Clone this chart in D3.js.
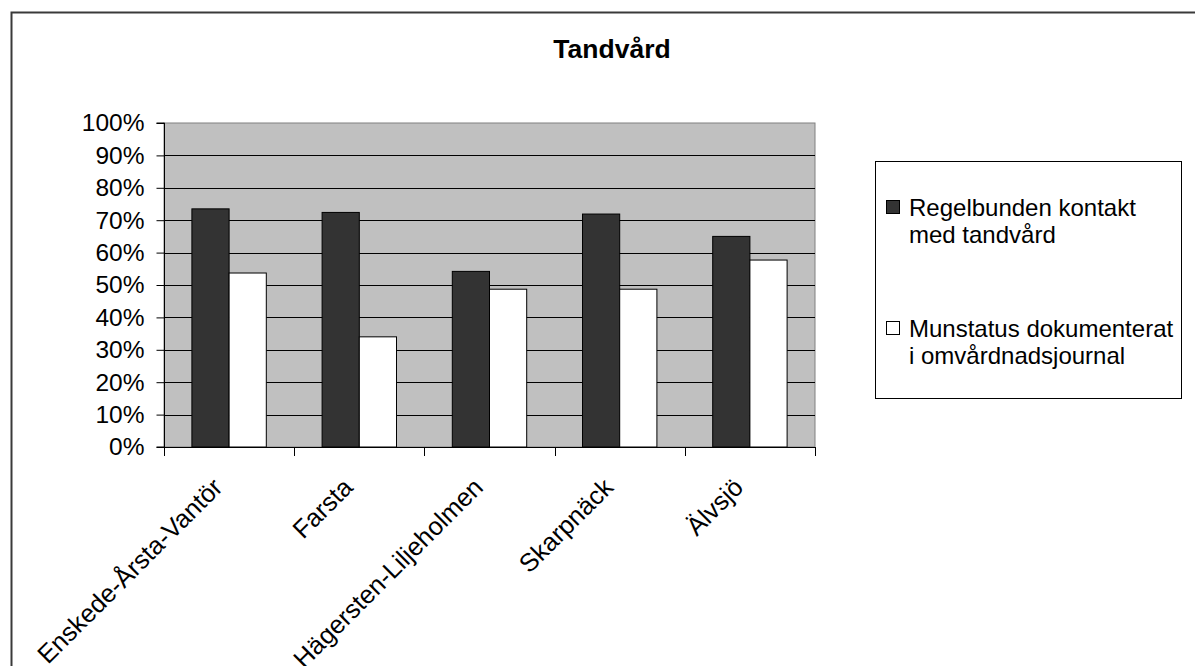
<!DOCTYPE html>
<html>
<head>
<meta charset="utf-8">
<script src="https://cdn.jsdelivr.net/npm/d3@7"></script>
<style>
  html, body { margin: 0; padding: 0; background: #ffffff; }
  svg { display: block; font-family: "Liberation Sans", Arial, sans-serif; }
</style>
</head>
<body>
<svg id="chart" width="1195" height="666"></svg>
<script>
// Districts shown on the category axis
const categories = ["Enskede-Årsta-Vantör", "Farsta", "Hägersten-Liljeholmen", "Skarpnäck", "Älvsjö"];

// Series names (split over two lines in the legend)
const seriesNames = ["Regelbunden kontakt med tandvård", "Munstatus dokumenterat i omvårdnadsjournal"];
const seriesLegendLines = [
  ["Regelbunden kontakt", "med tandvård"],
  ["Munstatus dokumenterat", "i omvårdnadsjournal"]
];

// Share per district, one array per series
const regelbundenKontakt = [0.735, 0.724, 0.542, 0.719, 0.650];
const munstatusDokumenterat = [0.537, 0.340, 0.487, 0.487, 0.577];

// Value axis ticks
const yTicks = [0, 0.1, 0.2, 0.3, 0.4, 0.5, 0.6, 0.7, 0.8, 0.9, 1.0];

const seriesValues = [regelbundenKontakt, munstatusDokumenterat];
const seriesFill = ["#333333", "#ffffff"];

const svg = d3.select("#chart");

// Outer chart frame
svg.append("path")
  .attr("d", "M11.5,666 L11.5,12.5 L1195,12.5")
  .attr("fill", "none")
  .attr("stroke", "#3a3a3a")
  .attr("stroke-width", 2);

// Title
svg.append("text")
  .attr("x", 612)
  .attr("y", 58)
  .attr("text-anchor", "middle")
  .attr("font-size", 26.5)
  .attr("font-weight", "bold")
  .attr("fill", "#000")
  .text("Tandvård");

const plot = { left: 164, right: 815, top: 123, bottom: 447 };

const y = d3.scaleLinear().domain([0, 1]).range([plot.bottom, plot.top]);
const xCat = d3.scaleBand().domain(categories).range([plot.left, plot.right]).padding(0);
const xSeries = d3.scaleBand().domain(d3.range(seriesNames.length))
  .range([0, xCat.bandwidth()]).paddingInner(0).paddingOuter(0.75);

// Plot area background
svg.append("rect")
  .attr("x", plot.left)
  .attr("y", plot.top)
  .attr("width", plot.right - plot.left)
  .attr("height", plot.bottom - plot.top)
  .attr("fill", "#c0c0c0")
  .attr("stroke", "#808080")
  .attr("stroke-width", 1);

// Horizontal gridlines
svg.append("g")
  .selectAll("line")
  .data(yTicks.filter(t => t > 0 && t < 1))
  .join("line")
  .attr("x1", plot.left)
  .attr("x2", plot.right)
  .attr("y1", d => Math.round(y(d)) + 0.5)
  .attr("y2", d => Math.round(y(d)) + 0.5)
  .attr("stroke", "#000")
  .attr("stroke-width", 1);

// Bars
const rows = categories.map((c, i) => ({ category: c, values: seriesValues.map(s => s[i]) }));
svg.append("g")
  .selectAll("g")
  .data(rows)
  .join("g")
  .attr("transform", d => `translate(${xCat(d.category)},0)`)
  .selectAll("rect")
  .data(d => d.values.map((v, k) => ({ v, k })))
  .join("rect")
  .attr("x", d => xSeries(d.k))
  .attr("y", d => y(d.v))
  .attr("width", xSeries.bandwidth())
  .attr("height", d => y(0) - y(d.v))
  .attr("fill", d => seriesFill[d.k])
  .attr("stroke", "#000")
  .attr("stroke-width", 1);

// Value axis
const yAxis = d3.axisLeft(y)
  .tickValues(yTicks)
  .tickFormat(d3.format(".0%"))
  .tickSize(8)
  .tickPadding(12);
const yAxisG = svg.append("g")
  .attr("transform", `translate(${plot.left + 0.5},0)`)
  .call(yAxis);
yAxisG.select(".domain").attr("stroke", "#000").attr("d", `M-8,${plot.top}H0V${plot.bottom}H-8`);
yAxisG.selectAll(".tick line").attr("stroke", "#000");
yAxisG.selectAll("text")
  .attr("font-size", 24.5)
  .attr("font-family", "Liberation Sans, Arial, sans-serif")
  .attr("fill", "#000");

// Category axis line and tick marks at category boundaries
const boundaries = categories.map(c => xCat(c)).concat([plot.right]);
svg.append("line")
  .attr("x1", plot.left)
  .attr("x2", plot.right)
  .attr("y1", plot.bottom + 0.5)
  .attr("y2", plot.bottom + 0.5)
  .attr("stroke", "#000");
svg.append("g")
  .selectAll("line")
  .data(boundaries)
  .join("line")
  .attr("x1", d => Math.round(d) + 0.5)
  .attr("x2", d => Math.round(d) + 0.5)
  .attr("y1", plot.bottom)
  .attr("y2", plot.bottom + 9)
  .attr("stroke", "#000");

// Rotated category labels
svg.append("g")
  .selectAll("text")
  .data(categories)
  .join("text")
  .attr("transform", d => `translate(${xCat(d) + xCat.bandwidth() / 2 - 5},489) rotate(-45)`)
  .attr("text-anchor", "end")
  .attr("font-size", 25.5)
  .attr("fill", "#000")
  .text(d => d);

// Legend
const legend = svg.append("g");
legend.append("rect")
  .attr("x", 875.5)
  .attr("y", 161.5)
  .attr("width", 306)
  .attr("height", 237)
  .attr("fill", "#fff")
  .attr("stroke", "#000")
  .attr("stroke-width", 1);

const legendTop = [216, 337];
seriesNames.forEach((name, k) => {
  legend.append("rect")
    .attr("x", 886.5)
    .attr("y", legendTop[k] - 15.5)
    .attr("width", 13)
    .attr("height", 13)
    .attr("fill", seriesFill[k])
    .attr("stroke", "#000")
    .attr("stroke-width", 1);
  const t = legend.append("text")
    .attr("font-size", 24)
    .attr("fill", "#000");
  seriesLegendLines[k].forEach((line, j) => {
    t.append("tspan")
      .attr("x", 909)
      .attr("y", legendTop[k] + j * 26.5)
      .text(line);
  });
});
</script>
</body>
</html>
